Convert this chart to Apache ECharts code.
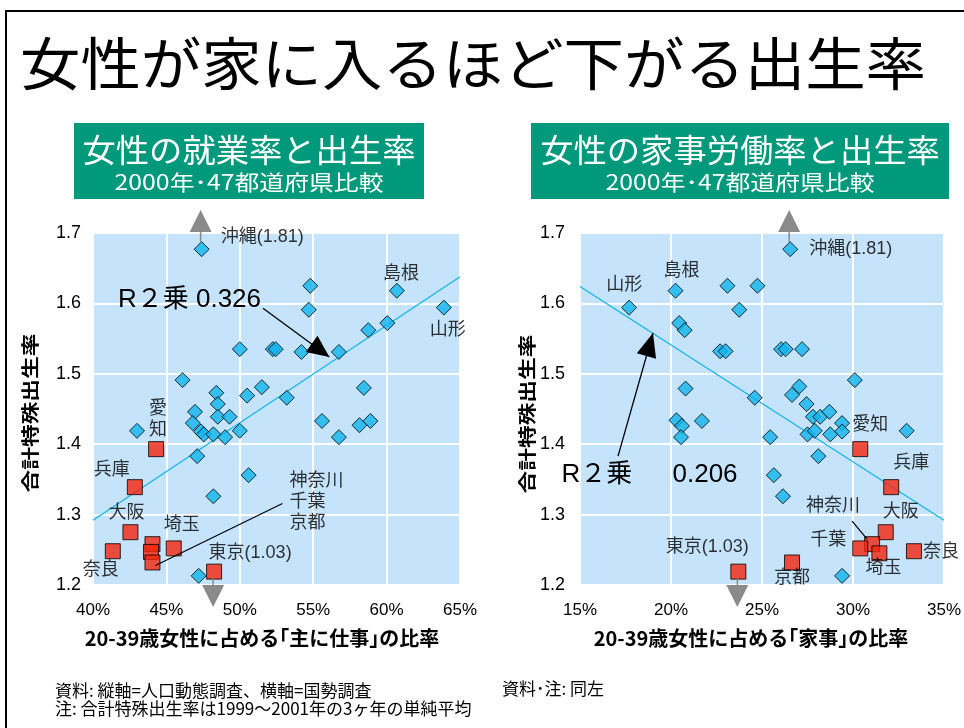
<!DOCTYPE html>
<html><head><meta charset="utf-8">
<script src="https://cdn.jsdelivr.net/npm/echarts@6/dist/echarts.min.js"></script>
<style>html,body{margin:0;padding:0;background:#fff}#c{width:964px;height:728px}</style>
</head><body><div id="c"></div>
<script>
// ---- data ----
const yTicks = [1.2, 1.3, 1.4, 1.5, 1.6, 1.7];
const workTicks = [40, 45, 50, 55, 60, 65];
const houseTicks = [15, 20, 25, 30, 35];

// left: share of women 20-39 "mainly working" (%) vs TFR
const workBlue = [
  [47.4,1.677,'沖縄'],[54.8,1.625],[60.7,1.618,'島根'],[54.7,1.591],[63.9,1.594,'山形'],
  [58.75,1.562],[60.05,1.572],[50.0,1.535],[52.25,1.535],[52.45,1.535],[54.2,1.531],
  [56.75,1.531],[46.1,1.491],[48.4,1.473],[50.5,1.469],[51.5,1.481],[53.2,1.466],
  [58.45,1.48],[46.95,1.446],[48.5,1.457],[48.5,1.439],[49.3,1.439],[46.8,1.43],
  [47.35,1.418],[47.55,1.414],[48.2,1.414],[49.0,1.41],[50.0,1.419],[43.0,1.419],
  [55.6,1.433],[56.75,1.41],[58.15,1.427],[58.9,1.433],[47.1,1.383],[50.6,1.356],
  [48.2,1.326],[47.2,1.213]
];
const workRed = [
  [44.3,1.393,'愛知'],[42.85,1.339,'兵庫'],[42.55,1.275,'大阪'],[41.35,1.248,'奈良'],
  [44.05,1.258,'神奈川'],[43.95,1.247,'千葉'],[44.05,1.232,'京都'],[45.5,1.252,'埼玉'],
  [48.25,1.219,'東京']
];
const workTrend = [[40,1.292],[65,1.638]];

// right: share of women 20-39 "housework" (%) vs TFR
const houseBlue = [
  [26.55,1.677,'沖縄'],[17.7,1.594,'山形'],[20.25,1.618,'島根'],[23.1,1.625],[24.75,1.625],
  [23.75,1.591],[20.45,1.572],[20.75,1.562],[22.7,1.532],[23.0,1.532],[26.05,1.535],
  [26.3,1.535],[27.2,1.535],[30.1,1.491],[20.8,1.479],[24.6,1.466],[26.65,1.47],
  [27.05,1.482],[27.45,1.457],[27.8,1.439],[28.2,1.439],[28.7,1.446],[29.4,1.43],
  [29.4,1.418],[28.75,1.414],[27.5,1.414],[27.9,1.419],[32.95,1.419],[20.3,1.434],
  [20.6,1.426],[20.55,1.41],[21.7,1.433],[25.45,1.41],[28.1,1.383],[25.65,1.356],
  [26.15,1.326],[29.4,1.213]
];
const houseRed = [
  [30.4,1.393,'愛知'],[32.1,1.339,'兵庫'],[31.8,1.275,'大阪'],[33.35,1.248,'奈良'],
  [31.05,1.258,'神奈川'],[30.4,1.252,'千葉'],[31.45,1.245,'埼玉'],[26.65,1.232,'京都'],
  [23.7,1.219,'東京']
];
const houseTrend = [[15,1.624],[35,1.292]];

const r2Work = '0.326';
const r2House = '0.206';

// ---- styles (label placement relative to marker, px) ----
const workLabels = {
  '沖縄': {t:'沖縄(1.81)', off:[19,-12], align:'left'},
  '島根': {t:'島根', off:[4,-17]},
  '山形': {t:'山形', off:[4,22]},
  '愛知': {t:'愛\n知', off:[2,-30]},
  '兵庫': {t:'兵庫', off:[-23,-17]},
  '大阪': {t:'大阪', off:[-4,-19]},
  '奈良': {t:'奈良', off:[-12,19]},
  '埼玉': {t:'埼玉', off:[8,-23]},
  '東京': {t:'東京(1.03)', off:[36,-19]},
  '京都': {t:'神奈川\n千葉\n京都', off:[137,-60], align:'left'}
};
const houseLabels = {
  '沖縄': {t:'沖縄(1.81)', off:[19,0], align:'left'},
  '山形': {t:'山形', off:[-5,-23]},
  '島根': {t:'島根', off:[6,-20]},
  '愛知': {t:'愛知', off:[10,-24]},
  '兵庫': {t:'兵庫', off:[20,-24]},
  '大阪': {t:'大阪', off:[15,-20]},
  '奈良': {t:'奈良', off:[27,1]},
  '埼玉': {t:'埼玉', off:[4,15]},
  '千葉': {t:'千葉', off:[-32,-8]},
  '神奈川': {t:'神奈川', off:[-39,-38]},
  '京都': {t:'京都', off:[0,16]},
  '東京': {t:'東京(1.03)', off:[-31,-25]}
};

const FONT = "'Liberation Sans','Noto Sans CJK JP',sans-serif";
const JP = "'Noto Sans CJK JP','Liberation Sans',sans-serif";
const BLUE = '#0FB4EE', RED = '#F2240E', BG = '#C5E3FB', GREEN = '#00997B';

function items(arr, map){
  return arr.map(d => {
    const o = {value:[d[0], d[1]]};
    const lab = d[2] && map[d[2]];
    if (lab) {
      o.label = {show:true, position:'inside', formatter: lab.t, offset: lab.off,
        align: lab.align || 'center', verticalAlign:'middle',
        color:'#000', fontSize:18, fontFamily: FONT, lineHeight: 21,
        textBorderWidth:0, textBorderColor:'transparent'};
    }
    return o;
  });
}

function axisX(ticks, gi){
  return {type:'value', gridIndex:gi, min:ticks[0], max:ticks[ticks.length-1], interval:5,
    axisLine:{show:false}, axisTick:{show:false},
    axisLabel:{formatter:'{value}%', color:'#000', fontSize:17, fontFamily:FONT, margin:17},
    splitLine:{show:true, lineStyle:{color:'#fff', width:2}}};
}
function axisY(gi, margin){
  return {type:'value', gridIndex:gi, min:yTicks[0], max:yTicks[yTicks.length-1], interval:0.1,
    axisLine:{show:false}, axisTick:{show:false},
    axisLabel:{formatter:v => v.toFixed(1), color:'#000', fontSize:18, fontFamily:FONT, margin:margin},
    splitLine:{show:true, lineStyle:{color:'#fff', width:2}}};
}

const chart = echarts.init(document.getElementById('c'), null, {renderer:'canvas'});
chart.setOption({
  animation:false,
  backgroundColor:'#fff',
  textStyle:{fontFamily:FONT},
  grid:[
    {left:93, top:233, width:367, height:352, show:true, backgroundColor:BG, borderWidth:0},
    {left:580, top:233, width:364, height:352, show:true, backgroundColor:BG, borderWidth:0}
  ],
  xAxis:[axisX(workTicks,0), axisX(houseTicks,1)],
  yAxis:[axisY(0,12), axisY(1,15)],
  series:[
    {type:'line', xAxisIndex:0, yAxisIndex:0, data:workTrend, symbol:'none',
      lineStyle:{color:BLUE, width:1.2}, z:2},
    {type:'scatter', xAxisIndex:0, yAxisIndex:0, data:items(workBlue, workLabels),
      symbol:'diamond', symbolSize:15, itemStyle:{color:BLUE, borderColor:'#000', borderWidth:1}, z:3},
    {type:'scatter', xAxisIndex:0, yAxisIndex:0, data:items(workRed, workLabels),
      symbol:'rect', symbolSize:15, itemStyle:{color:RED, borderColor:'#000', borderWidth:1}, z:4},
    {type:'line', xAxisIndex:1, yAxisIndex:1, data:houseTrend, symbol:'none',
      lineStyle:{color:BLUE, width:1.2}, z:2},
    {type:'scatter', xAxisIndex:1, yAxisIndex:1, data:items(houseBlue, houseLabels),
      symbol:'diamond', symbolSize:15, itemStyle:{color:BLUE, borderColor:'#000', borderWidth:1}, z:3},
    {type:'scatter', xAxisIndex:1, yAxisIndex:1, data:items(houseRed, houseLabels),
      symbol:'rect', symbolSize:15, itemStyle:{color:RED, borderColor:'#000', borderWidth:1}, z:4}
  ]
});

// ---- annotations ----
const ctx = document.createElement('canvas').getContext('2d');
function fitScale(text, size, weight, target){
  ctx.font = (weight||'normal') + ' ' + size + 'px ' + JP;
  return target / ctx.measureText(text).width;
}
function P(gi, x, y){ return chart.convertToPixel({xAxisIndex:gi, yAxisIndex:gi}, [x, y]); }
function txt(x, y, text, size, opts){
  opts = opts || {};
  return {type:'text', x:x, y:y, rotation:opts.rot||0, scaleX:opts.sx||1, scaleY:opts.sy||1, z:50,
    style:{text:text, fill:opts.fill||'#000', fontSize:size, fontFamily:opts.ff||JP,
      fontWeight:opts.fw||'normal', align:opts.align||'center', verticalAlign:opts.va||'middle',
      lineHeight:opts.lh}};
}
function arrowHead(tail, tip, len, half, color){
  const dx = tip[0]-tail[0], dy = tip[1]-tail[1], L = Math.hypot(dx,dy);
  const ux = dx/L, uy = dy/L;
  const bx = tip[0]-ux*len, by = tip[1]-uy*len;
  return {type:'polygon', z:60, shape:{points:[tip, [bx-uy*half, by+ux*half], [bx+uy*half, by-ux*half]]},
    style:{fill:color}};
}
function line(a, b, color, w){
  return {type:'line', z:60, shape:{x1:a[0], y1:a[1], x2:b[0], y2:b[1]}, style:{stroke:color, lineWidth:w||1}};
}
const G = [];
// frame
G.push({type:'polyline', z:70, shape:{points:[[6,728],[6,11],[964,11]]}, style:{stroke:'#000', lineWidth:2, fill:null}});
// main title
const mainTitle = '女性が家に入るほど下がる出生率';
G.push(txt(473, 63, mainTitle, 57, {ff:JP, sx: fitScale(mainTitle, 57, 'normal', 906)}));
// green boxes
const boxes = [
  {x:74, w:350, t1:'女性の就業率と出生率'},
  {x:531, w:418, t1:'女性の家事労働率と出生率'}
];
boxes.forEach(b => {
  G.push({type:'rect', z:40, shape:{x:b.x, y:123, width:b.w, height:76}, style:{fill:GREEN}});
  const cx = b.x + b.w/2;
  G.push(txt(cx, 150, b.t1, 32, {fill:'#fff', sx: fitScale(b.t1, 32, 'normal', b.t1.length*33.3)}));
  const t2 = '2000年･47都道府県比較';
  G.push(txt(cx, 182, t2, 21, {fill:'#fff', sx: fitScale(t2, 21, 'normal', 269)}));
});
// axis titles
G.push(txt(262, 638, '20-39歳女性に占める｢主に仕事｣の比率', 20, {fw:'bold'}));
G.push(txt(751, 638, '20-39歳女性に占める｢家事｣の比率', 20, {fw:'bold'}));
G.push(txt(30, 413, '合計特殊出生率', 21, {fw:'bold', rot:Math.PI/2, sx:1.08, sy:0.85}));
G.push(txt(527, 414, '合計特殊出生率', 21, {fw:'bold', rot:Math.PI/2, sx:1.08, sy:0.85}));
// notes
G.push(txt(55, 700, '資料: 縦軸=人口動態調査、横軸=国勢調査\n注: 合計特殊出生率は1999～2001年の3ヶ年の単純平均', 17, {align:'left', lh:18}));
G.push(txt(502, 689, '資料･注: 同左', 17, {align:'left'}));

// clipped-value arrows (gray)
const GRAY = '#8a8a8a';
function clipArrow(gi, d, up, markHalf){
  const p = P(gi, d[0], d[1]);
  if (up) {
    const edge = P(gi, d[0], yTicks[yTicks.length-1])[1] - 1;
    G.push(line([p[0]-1, p[1]-markHalf], [p[0]-1, edge], GRAY, 1.5));
    G.push({type:'polygon', z:60, shape:{points:[[p[0]-12, edge],[p[0]+10, edge],[p[0]-1, edge-22]]}, style:{fill:GRAY}});
  } else {
    const edge = P(gi, d[0], yTicks[0])[1];
    G.push(line([p[0]-1, p[1]+markHalf], [p[0]-1, edge], GRAY, 1.5));
    G.push({type:'polygon', z:60, shape:{points:[[p[0]-12, edge],[p[0]+10, edge],[p[0]-1, edge+22]]}, style:{fill:GRAY}});
  }
}
clipArrow(0, workBlue.find(d => d[2]==='沖縄'), true, 7);
clipArrow(0, workRed.find(d => d[2]==='東京'), false, 7);
clipArrow(1, houseBlue.find(d => d[2]==='沖縄'), true, 7);
clipArrow(1, houseRed.find(d => d[2]==='東京'), false, 7);

// leader lines
{
  const k = workRed.find(d => d[2]==='京都'); const p = P(0, k[0], k[1]);
  G.push(line([p[0]+3, p[1]+3], [p[0]+130, p[1]-59], '#000', 1.2));
  const n = houseRed.find(d => d[2]==='神奈川'); const q = P(1, n[0], n[1]);
  G.push(line([q[0]-20, q[1]-23], [q[0]-5, q[1]-5], '#000', 1.2));
}

// R-squared annotations
{
  const tip = P(0, 56.1, 1.524), tail = P(0, 51.58, 1.593), at = P(0, 41.7, 1.6045);
  G.push(txt(at[0], at[1], 'R２乗 ' + r2Work, 26, {align:'left', ff:FONT}));
  G.push(line(tail, tip, '#000', 1.3));
  G.push(arrowHead(tail, tip, 22, 10, '#000'));
  const tip2 = P(1, 19.01, 1.558), tail2 = P(1, 17.09, 1.383);
  const a1 = P(1, 15.93, 1.356), a2 = P(1, 21.87, 1.356);
  G.push(txt(a1[0], a1[1], 'R２乗', 26, {ff:FONT}));
  G.push(txt(a2[0], a2[1], r2House, 26, {ff:FONT}));
  G.push(line(tail2, tip2, '#000', 1.3));
  G.push(arrowHead(tail2, tip2, 24, 10, '#000'));
}
chart.setOption({graphic: G});
</script>
</body></html>
